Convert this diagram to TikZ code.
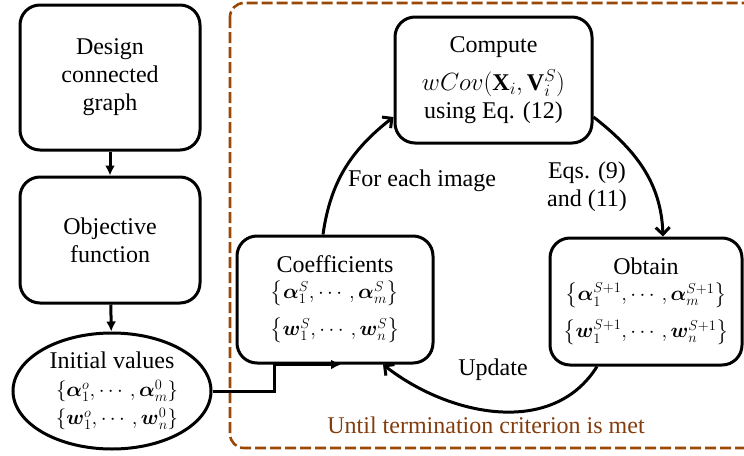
\documentclass[tikz,border=0pt]{standalone}
\usepackage{amsmath,amssymb}
\usepackage{fontspec}
\setmainfont{Liberation Serif}
\usetikzlibrary{arrows.meta,shapes.geometric}
\definecolor{loopbrown}{HTML}{984807}
\definecolor{loopText}{HTML}{843C0C}
\tikzset{
  x=1pt, y=-1pt,
  every node/.style={font=\fontsize{24}{28}\selectfont},
  stepbox/.style={draw, line width=3pt, rounded corners=20pt, align=center, inner sep=0pt},
  initval/.style={draw, ellipse, line width=3pt, align=center, inner sep=0pt},
  flow/.style={line width=3pt, -{Latex[length=10pt,width=10pt]}},
  cycle/.style={line width=3pt, -{Straight Barb[length=7pt,width=14pt,line width=3pt]}},
  lbl/.style={align=center, inner sep=0pt},
}
\newcommand{\bal}{\boldsymbol{\alpha}}
\newcommand{\bw}{\boldsymbol{w}}
\newcommand{\setrow}[1]{{\fontsize{21}{24}\selectfont$#1$}}
\begin{document}
\begin{tikzpicture}
\useasboundingbox (0,0) rectangle (744,455);

% iteration region
\draw[loopbrown, line width=2.6pt, dash pattern=on 11pt off 4pt, rounded corners=14pt]
  (230,3) rectangle (760,448);

% preparation column
\node[stepbox, minimum width=180pt, minimum height=145pt] (design) at (110,77.5)
  {Design\\connected\\graph};
\node[stepbox, minimum width=180pt, minimum height=126pt] (objective) at (110,240)
  {Objective\\function};
\node[initval, minimum width=198pt, minimum height=116pt] (init) at (112,391)
  {Initial values\\[0pt]
   \hspace*{10pt}\setrow{\{\bal_1^{o},\cdots,\bal_m^{0}\}}\\[0pt]
   \hspace*{10pt}\setrow{\{\bw_1^{o},\cdots,\bw_n^{0}\}}};

% iteration boxes
\node[stepbox, minimum width=197pt, minimum height=126pt] (compute) at (493.5,80)
  {Compute\\[10pt]
   $wCov(\mathbf{X}_i,\mathbf{V}_i^S)$\\[0pt]
   using Eq. (12)};
\node[stepbox, minimum width=196pt, minimum height=127pt] (coef) at (335,299.5)
  {Coefficients\\[-2pt]
   \setrow{\bigl\{\bal_1^S,\cdots,\bal_m^S\bigr\}}\\[9pt]
   \setrow{\bigl\{\bw_1^S,\cdots,\bw_n^S\bigr\}}};
\node[stepbox, minimum width=192pt, minimum height=127pt] (obtain) at (646,301.5)
  {Obtain\\[-2pt]
   \setrow{\bigl\{\bal_1^{S+1},\cdots,\bal_m^{S+1}\bigr\}}\\[9pt]
   \setrow{\bigl\{\bw_1^{S+1},\cdots,\bw_n^{S+1}\bigr\}}};

% straight connectors
\draw[flow] (design) -- (objective);
\draw[flow] (objective) -- (init);
\draw[flow] (init.east) -| ([xshift=-61pt]coef.south) -- ([xshift=6pt]coef.south);

% iteration cycle
\draw[cycle] ([xshift=-12pt]coef.north) to[out=82,in=218] ([yshift=-37pt]compute.west);
\draw[cycle] ([yshift=-37pt]compute.east) to[out=-38,in=92] ([xshift=17pt]obtain.north);
\draw[cycle] ([xshift=-49pt]obtain.south) to[out=238,in=-38] ([xshift=48pt]coef.south);

% labels
\node[lbl] (each) at (422,181) {For each image};
\node[lbl] (eqs) at (587,186.5) {Eqs. (9)\\and (11)};
\node[lbl] (upd) at (493,370) {Update};
\node[lbl, text=loopText] (until) at (486,425) {Until termination criterion is met};
\end{tikzpicture}
\end{document}
